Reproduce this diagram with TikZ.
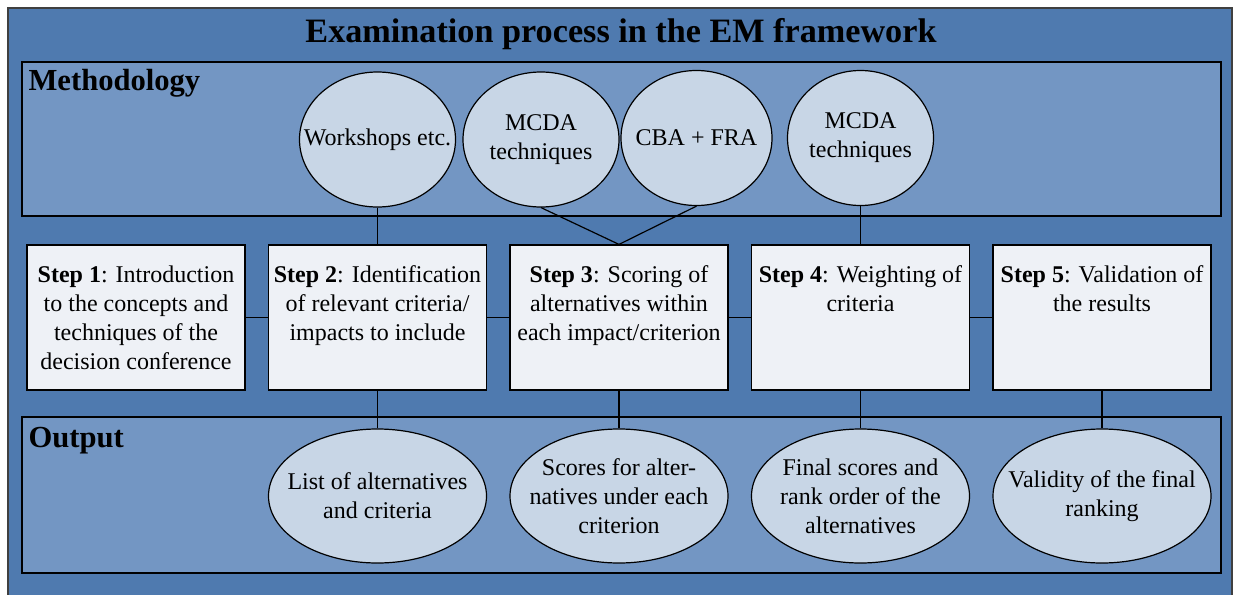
\documentclass[tikz,border=0pt]{standalone}
\usepackage{fontspec}
\setmainfont{Liberation Serif}
\usetikzlibrary{shapes.geometric}
\definecolor{frameBlue}{HTML}{4F7AAF}
\definecolor{bandBlue}{HTML}{7396C3}
\definecolor{ovalFill}{HTML}{C8D6E6}
\definecolor{stepFill}{HTML}{EEF1F6}

\begin{document}
\begin{tikzpicture}[x=0.5pt,y=-0.5pt,line width=0.6pt,
  every label/.style={align=center,inner sep=0pt,font=\fontsize{12}{14.5}\selectfont},
  band/.style={draw,fill=bandBlue},
  heading/.style={anchor=base west,inner sep=0pt,font=\bfseries\fontsize{15.3}{18}\selectfont},
  methoval/.style={ellipse,draw,fill=ovalFill,minimum width=78pt,minimum height=67.5pt,inner sep=0pt},
  outoval/.style={ellipse,draw,fill=ovalFill,minimum width=109pt,minimum height=67pt,inner sep=0pt},
  stepbox/.style={rectangle,draw,fill=stepFill,minimum width=109pt,minimum height=72.5pt,inner sep=0pt},
  steptext/.style={label={[anchor=north,yshift=-10.3pt]north:#1}}]
\useasboundingbox (0,0) rectangle (1236,594);
\draw[fill=frameBlue,draw=black!75,line width=0.8pt] (8,8) rectangle (1232,600);
\node[anchor=base,inner sep=0pt,font=\bfseries\fontsize{17.1}{21}\selectfont] (title) at (621,42) {Examination process in the EM framework};

\draw[band] (22,62) rectangle (1221,216);
\node[heading] (methlabel) at (28,90) {Methodology};
\draw[band] (22,417) rectangle (1221,573);
\node[heading] (outlabel) at (28,447) {Output};

% methodology
\node[methoval,label={center:Workshops etc.}] (workshops) at (377.5,139.5) {};
\node[methoval,label={center:MCDA\\techniques}] (mcdaA) at (541,139.5) {};
\node[methoval,minimum width=75.5pt,label={center:CBA + FRA}] (cba) at (696.5,138) {};
\node[methoval,minimum width=73pt,label={center:MCDA\\techniques}] (mcdaB) at (860.5,138) {};

% steps
\node[stepbox,steptext={\textbf{Step 1}: Introduction\\to the concepts and\\techniques of the\\decision conference}] (step1) at (136,317.5) {};
\node[stepbox,steptext={\textbf{Step 2}: Identification\\of relevant criteria/\\impacts to include}] (step2) at (377.5,317.5) {};
\node[stepbox,steptext={\textbf{Step 3}: Scoring of\\alternatives within\\each impact/criterion}] (step3) at (619,317.5) {};
\node[stepbox,steptext={\textbf{Step 4}: Weighting of\\criteria}] (step4) at (860.5,317.5) {};
\node[stepbox,steptext={\textbf{Step 5}: Validation of\\the results}] (step5) at (1102,317.5) {};

% output
\node[outoval,label={center:List of alternatives\\and criteria}] (outA) at (377.5,496) {};
\node[outoval,label={center:Scores for alter-\\natives under each\\criterion}] (outB) at (619,496) {};
\node[outoval,label={center:Final scores and\\rank order of the\\alternatives}] (outC) at (860.5,496) {};
\node[outoval,label={center:Validity of the final\\ranking}] (outD) at (1102,496) {};

\draw (step1) -- (step2);
\draw (step2) -- (step3);
\draw (step3) -- (step4);
\draw (step4) -- (step5);
\draw (workshops) -- (step2);
\draw (mcdaA.south) -- (step3.north) -- (cba.south);
\draw (mcdaB) -- (step4);
\draw (step2) -- (outA);
\draw (step3) -- (outB);
\draw (step4) -- (outC);
\draw (step5) -- (outD);
\end{tikzpicture}
\end{document}
